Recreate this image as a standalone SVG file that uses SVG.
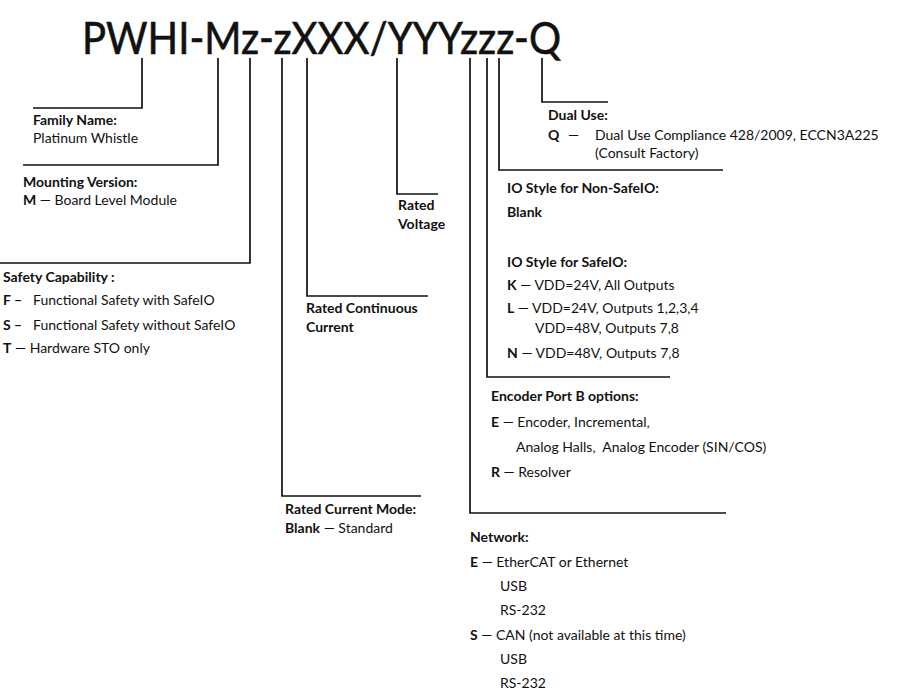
<svg xmlns="http://www.w3.org/2000/svg" width="900" height="694" viewBox="0 0 900 694">
<style>
text{font-family:Lato,"Open Sans","Liberation Sans",sans-serif;font-size:14px;fill:#111}
.b{font-weight:bold}
.title{font-size:44px;font-weight:normal;stroke:#111;stroke-width:0.6}
.c{fill:none;stroke:#111;stroke-width:1.7}
</style>
<rect width="900" height="694" fill="#fff"/>
<g id="title"><text class="title" x="82" y="54" textLength="479" lengthAdjust="spacingAndGlyphs">PWHI-Mz-zXXX/YYYzzz-Q</text></g>
<g id="connectors">
<polyline class="c" points="142,58 142,108 33,108"/>
<polyline class="c" points="218,58 218,165 23,165"/>
<polyline class="c" points="250,58 250,263 0,263"/>
<polyline class="c" points="282,58 282,496 421,496"/>
<polyline class="c" points="307,58 307,296 428,296"/>
<polyline class="c" points="397,58 397,194 438,194"/>
<polyline class="c" points="470,58 470,513 726,513"/>
<polyline class="c" points="487,58 487,377 670,377"/>
<polyline class="c" points="499,58 499,170 723,170"/>
<polyline class="c" points="542,58 542,102 608,102"/>
</g>
<g id="family">
<text class="b" x="33" y="125">Family Name:</text>
<text x="33" y="143">Platinum Whistle</text>
</g>
<g id="mounting">
<text class="b" x="23" y="187">Mounting Version:</text>
<text x="23" y="205"><tspan class="b">M</tspan> — Board Level Module</text>
</g>
<g id="safety">
<text class="b" x="3" y="282">Safety Capability :</text>
<text x="3" y="305"><tspan class="b">F –</tspan></text><text x="33" y="305">Functional Safety with SafeIO</text>
<text x="3" y="330"><tspan class="b">S –</tspan></text><text x="33" y="330">Functional Safety without SafeIO</text>
<text x="3" y="353"><tspan class="b">T</tspan> — Hardware STO only</text>
</g>
<g id="current-mode">
<text class="b" x="285" y="514">Rated Current Mode:</text>
<text x="285" y="533"><tspan class="b">Blank</tspan> — Standard</text>
</g>
<g id="continuous">
<text class="b" x="306" y="313">Rated Continuous</text>
<text class="b" x="306" y="332">Current</text>
</g>
<g id="voltage">
<text class="b" x="398" y="210">Rated</text>
<text class="b" x="398" y="229">Voltage</text>
</g>
<g id="dual-use">
<text class="b" x="548" y="120">Dual Use:</text>
<text class="b" x="548" y="140">Q</text><text x="568" y="140">—</text>
<text x="595" y="140">Dual Use Compliance 428/2009, ECCN3A225</text>
<text x="595" y="158">(Consult Factory)</text>
</g>
<g id="io-style">
<text class="b" x="507" y="193">IO Style for Non-SafeIO:</text>
<text class="b" x="507" y="217">Blank</text>
<text class="b" x="507" y="267">IO Style for SafeIO:</text>
<text x="507" y="290"><tspan class="b">K</tspan> — VDD=24V, All Outputs</text>
<text x="507" y="313"><tspan class="b">L</tspan> — VDD=24V, Outputs 1,2,3,4</text>
<text x="535" y="333">VDD=48V, Outputs 7,8</text>
<text x="507" y="358"><tspan class="b">N</tspan> — VDD=48V, Outputs 7,8</text>
</g>
<g id="encoder">
<text class="b" x="491" y="401">Encoder Port B options:</text>
<text x="491" y="427"><tspan class="b">E</tspan> — Encoder, Incremental,</text>
<text x="516" y="452">Analog Halls,&#160; Analog Encoder (SIN/COS)</text>
<text x="491" y="477"><tspan class="b">R</tspan> — Resolver</text>
</g>
<g id="network">
<text class="b" x="470" y="542">Network:</text>
<text x="470" y="567"><tspan class="b">E</tspan> — EtherCAT or Ethernet</text>
<text x="500" y="591">USB</text>
<text x="500" y="615">RS-232</text>
<text x="470" y="640"><tspan class="b">S</tspan> — CAN (not available at this time)</text>
<text x="500" y="664">USB</text>
<text x="500" y="688">RS-232</text>
</g>
</svg>
